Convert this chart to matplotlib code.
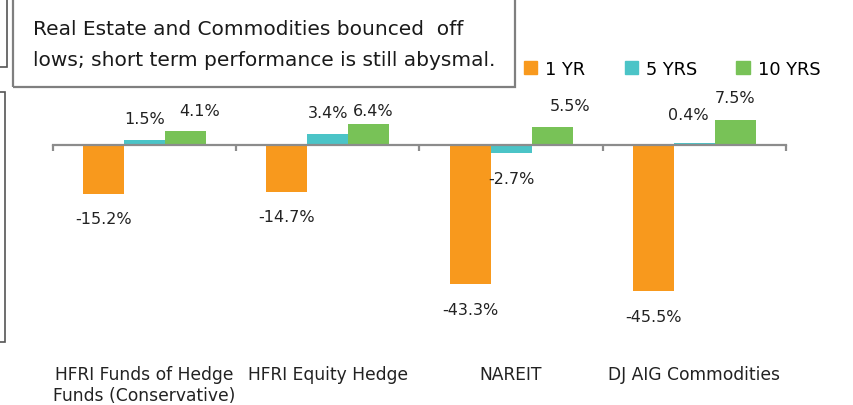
import matplotlib

matplotlib.use("Agg")
import matplotlib.pyplot as plt
from matplotlib.patches import Patch, Rectangle
from matplotlib.transforms import blended_transform_factory

# ── data ────────────────────────────────────────────────────────────────
categories = ["HFRI Funds of Hedge\nFunds (Conservative)", "HFRI Equity Hedge",
              "NAREIT", "DJ AIG Commodities"]
series = ["1 YR", "5 YRS", "10 YRS"]
yr1 = [-15.2, -14.7, -43.3, -45.5]
yrs5 = [1.5, 3.4, -2.7, 0.4]
yrs10 = [4.1, 6.4, 5.5, 7.5]
title = "Real Estate and Commodities bounced  off\nlows; short term performance is still abysmal."

colors = ["#F8991D", "#4BC4C7", "#78C257"]
# small label nudges (px) where the original labels sit off-centre
nudge = {(0, 2): (14, 0), (1, 2): (4, -8), (2, 2): (18, 0), (3, 1): (-6, 8), (3, 2): (0, 2)}

W, H = 854, 406
fig = plt.figure(figsize=(W / 100, H / 100), dpi=100)
ax = fig.add_axes([53 / W, 67 / H, 733 / W, 258 / H])

bw = 0.224
for s, vals in enumerate([yr1, yrs5, yrs10]):
    xs = [i + 0.5 + (s - 1) * bw for i in range(len(categories))]
    ax.bar(xs, vals, width=bw, color=colors[s], linewidth=0, label=series[s])
    for i, (x, v) in enumerate(zip(xs, vals)):
        dx, dy = nudge.get((i, s), (0, 0))
        off = 21 if v >= 0 else -25
        ax.annotate(f"{v:.1f}%", (x, v), xytext=(dx, off + dy), textcoords="offset pixels",
                    ha="center", va="center", fontsize=11.5, color="#222222")

ax.set_xlim(0, len(categories))
ax.set_ylim(-60, 20)
for sp in ["top", "right", "left"]:
    ax.spines[sp].set_visible(False)
ax.spines["bottom"].set_position(("data", 0))
ax.spines["bottom"].set_color("#8C8C8C")
ax.spines["bottom"].set_linewidth(1.6)
ax.set_yticks([])
ax.set_xticks(range(len(categories) + 1))
ax.set_xticklabels([])
ax.tick_params(axis="x", direction="out", length=4, width=1.6, color="#8C8C8C")

trans = blended_transform_factory(ax.transData, fig.transFigure)
for i, cat in enumerate(categories):
    ax.text(i + 0.5, 1 - 366 / H, cat, transform=trans, ha="center", va="top",
            fontsize=12.3, color="#222222", linespacing=1.2)

handles = [Patch(color=c, label=s) for c, s in zip(colors, series)]
fig.legend(handles=handles, loc="center left", bbox_to_anchor=(524 / W, 1 - 70 / H),
           ncol=3, frameon=False, fontsize=12.8, handlelength=0.75, handleheight=0.75,
           handletextpad=0.45, columnspacing=2.2, borderpad=0, borderaxespad=0)

# title box and cropped neighbouring shapes
fig.patches.append(Rectangle((13 / W, 1 - 88 / H), 502 / W, 100 / H, transform=fig.transFigure,
                             fill=False, edgecolor="#7F7F7F", linewidth=1.6))
fig.text(33 / W, 1 - 45 / H, title, ha="left", va="center", fontsize=14.5,
         color="#1A1A1A", linespacing=1.75)
fig.patches.append(Rectangle((-5 / W, 1 - 68 / H), 12 / W, 80 / H, transform=fig.transFigure,
                             fill=False, edgecolor="#555555", linewidth=1.2))
fig.patches.append(Rectangle((-5 / W, 1 - 343 / H), 10 / W, 250 / H, transform=fig.transFigure,
                             fill=False, edgecolor="#555555", linewidth=1.2))

fig.savefig("out.png", dpi=100)
